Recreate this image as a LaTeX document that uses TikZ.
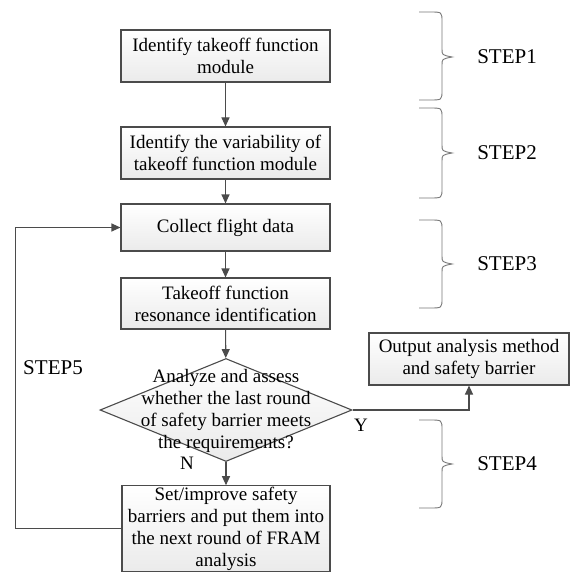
\documentclass[tikz,border=0pt]{standalone}
\usepackage{fontspec}
\setmainfont{Liberation Serif}
\usetikzlibrary{arrows.meta,shapes.geometric}
\definecolor{linegray}{RGB}{75,75,75}
\definecolor{bracegray}{RGB}{120,120,120}
\newcommand{\boxfont}{\fontsize{19}{22}\selectfont}
\newcommand{\stepfont}{\fontsize{21}{24}\selectfont}
% right-hand curly brace: top, bottom, middle
\newcommand{\stepbrace}[3]{\draw[bracepen] (419,#1) -- (430,#1) .. controls (442,#1) .. (442,#1+10) -- (442,#3-8) .. controls (442,#3-2) .. (452,#3) .. controls (442,#3+2) .. (442,#3+8) -- (442,#2-10) .. controls (442,#2) .. (430,#2) -- (419,#2);}

\begin{document}
\begin{tikzpicture}[x=1pt, y=-1pt,
    procbox/.style={draw=linegray, line width=1.1pt, top color=white, bottom color=black!8,
                    minimum width=209, minimum height=52, inner sep=1pt, align=center, font=\boxfont},
    decision/.style={draw=linegray, line width=1.1pt, shape=diamond, top color=white, bottom color=black!8,
                     minimum width=252, minimum height=103, inner sep=0pt},
    flow/.style={draw=linegray, line width=1.1pt, -{Triangle[length=9pt,width=8pt]}},
    bracepen/.style={draw=bracegray, line width=0.9pt},
    steplabel/.style={font=\stepfont, anchor=center},
    yn/.style={font=\boxfont}]
  \useasboundingbox (0,0) rectangle (570,572);

  %%%%% flow chart %%%%%
  \node[procbox] (ident) at (225.5,56) {Identify takeoff function\\module};
  \node[procbox] (vari) at (225.5,153) {Identify the variability of\\takeoff function module};
  \node[procbox, minimum height=47] (collect) at (225.5,227.5) {Collect flight data};
  \node[procbox, minimum height=51] (reson) at (225.5,303.5) {Takeoff function\\resonance identification};
  \node[decision] (dec) at (226,410) {};
  \node[align=center, font=\boxfont] (dectext) at (226,411) {Analyze and assess\\whether the last round\\of safety barrier meets\\the requirements?};
  \node[procbox, minimum height=83, minimum width=208] (barrier) at (226,528.5) {Set/improve safety\\barriers and put them into\\the next round of FRAM\\analysis};
  \node[procbox, minimum width=200] (output) at (469,359) {Output analysis method\\and safety barrier};

  \draw[flow] (ident) -- (vari);
  \draw[flow] (vari) -- (collect);
  \draw[flow] (collect) -- (reson);
  \draw[flow] (reson) -- (dec);
  \draw[flow] (dec) -- (barrier);
  \draw[flow] (dec.east) -| (output.south);
  \draw[flow] (barrier.west) -- ++(-106,0) |- (collect.west);

  \node[yn] (ylab) at (361,425) {Y};
  \node[yn] (nlab) at (187,463) {N};
  \node[steplabel] (step5) at (53,368) {STEP5};

  %%%%% steps %%%%%
  \stepbrace{12}{100}{57}
  \node[steplabel] (step1) at (507,57) {STEP1};
  \stepbrace{108}{198}{153}
  \node[steplabel] (step2) at (507,153) {STEP2};
  \stepbrace{220}{308}{264}
  \node[steplabel] (step3) at (507,264) {STEP3};
  \stepbrace{420}{508}{464}
  \node[steplabel] (step4) at (507,464) {STEP4};
\end{tikzpicture}
\end{document}
